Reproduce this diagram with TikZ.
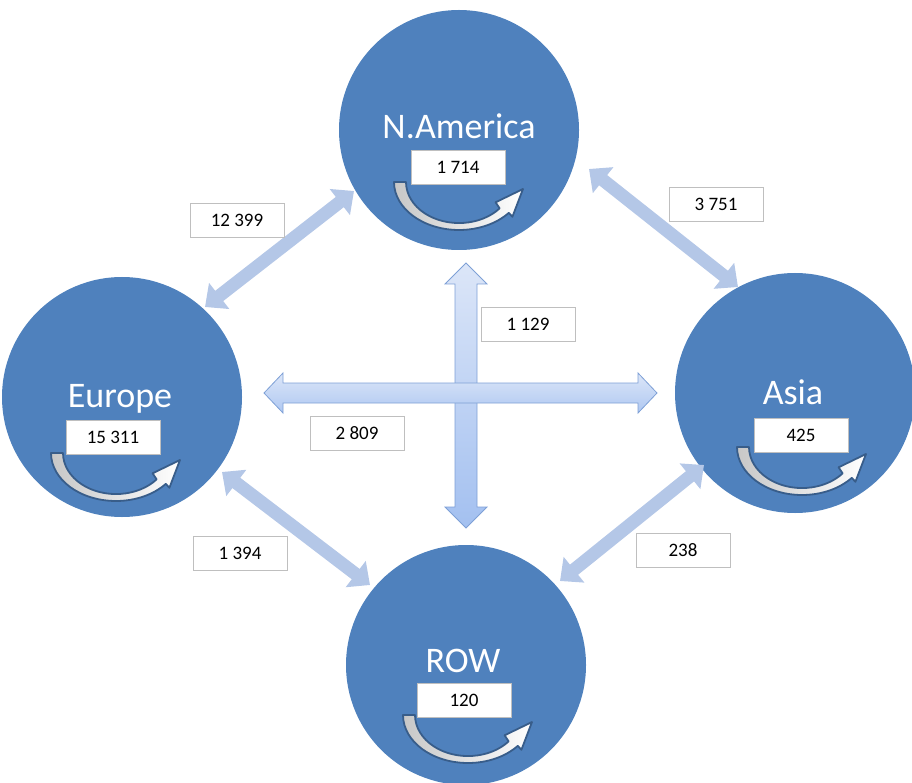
\documentclass[tikz,border=0pt]{standalone}
\usepackage{fontspec}
\setmainfont{Carlito}
\usetikzlibrary{arrows.meta}
\definecolor{circ}{HTML}{4F81BD}
\definecolor{diagc}{HTML}{B4C7E7}
\definecolor{arcline}{HTML}{385D8A}
\definecolor{crossline}{HTML}{7EA0D6}
\definecolor{crosslight}{HTML}{DCE6F8}
\definecolor{crossdark}{HTML}{A3C0F0}
\definecolor{lblline}{HTML}{BFBFBF}
\tikzset{
  region/.style={circle, fill=circ, minimum size=240pt, inner sep=0pt},
  title/.style={text=white, font=\fontsize{36}{40}\selectfont, anchor=base, inner sep=0pt},
  lbl/.style={draw=lblline, line width=0.8pt, fill=white, minimum width=94pt, minimum height=34pt, inner sep=0pt, font=\fontsize{19}{22}\selectfont},
  diag/.style={draw=diagc, line width=13pt, arrows={Triangle[width=32pt,length=18pt]-Triangle[width=32pt,length=18pt]}},
  loopline/.style={draw=arcline, line width=1.8pt, left color=black!22, right color=white, line join=round},
  crossarrow/.style={draw=crossline, line width=0.8pt, line join=miter}
}
\newcommand\looparrow[2]{%
  \path[loopline]
    ({#1-65},{#2}) arc[start angle=180,end angle=40,x radius=65,y radius=48]
    -- ({#1+53.4},{#2+34.8}) -- ({#1+64},{#2+7}) -- ({#1+36.6},{#2+20.3})
    -- ({#1+40.6},{#2+26.4}) arc[start angle=40,end angle=180,x radius=53,y radius=41]
    -- cycle;}
\begin{document}
\begin{tikzpicture}[x=1pt,y=-1pt]
\useasboundingbox (0,0) rectangle (912,783);

% regions
\node[region] (na) at (459,130) {};
\node[region] (eu) at (122,397) {};
\node[region] (as) at (795,393) {};
\node[region] (row) at (466,665) {};

% diagonal double arrows
\coordinate (euna1) at (205,307);
\coordinate (euna2) at (354,191);
\coordinate (naas1) at (589,169);
\coordinate (naas2) at (738,287);
\coordinate (eurow1) at (222,472);
\coordinate (eurow2) at (370,585);
\coordinate (asrow1) at (704,465);
\coordinate (asrow2) at (560,581);
\draw[diag] (euna1) -- (euna2);
\draw[diag] (naas1) -- (naas2);
\draw[diag] (eurow1) -- (eurow2);
\draw[diag] (asrow1) -- (asrow2);

% cross arrows
\path[crossarrow, top color=crosslight, bottom color=crossdark]
  (466,263) -- (487,284) -- (477,284) -- (477,507) -- (487,507) -- (466,528)
  -- (445,507) -- (455,507) -- (455,284) -- (445,284) -- cycle;
\path[crossarrow, top color=crosslight, bottom color=crossdark!80!crosslight]
  (264,393) -- (283,373) -- (283,383) -- (638,383) -- (638,373) -- (657,393)
  -- (638,413) -- (638,403) -- (283,403) -- (283,413) -- cycle;

% titles
\node[title] (natitle) at (459,139) {N.America};
\node[title] (eutitle) at (120,407) {Europe};
\node[title] (astitle) at (793,404) {Asia};
\node[title] (rowtitle) at (463,672) {ROW};

% loop arrows
\looparrow{459}{182}
\looparrow{116}{453}
\looparrow{802}{447}
\looparrow{468}{715}

% internal values
\node[lbl] (naval) at (458,167) {1 714};
\node[lbl] (euval) at (113,437) {15 311};
\node[lbl] (asval) at (801,435) {425};
\node[lbl] (rowval) at (464,700) {120};

% flow labels
\node[lbl] (l1) at (237,220) {12 399};
\node[lbl] (l2) at (716,204) {3 751};
\node[lbl] (l3) at (528,324) {1 129};
\node[lbl] (l4) at (357,433) {2 809};
\node[lbl] (l5) at (240,553) {1 394};
\node[lbl] (l6) at (683,550) {238};
\end{tikzpicture}
\end{document}
